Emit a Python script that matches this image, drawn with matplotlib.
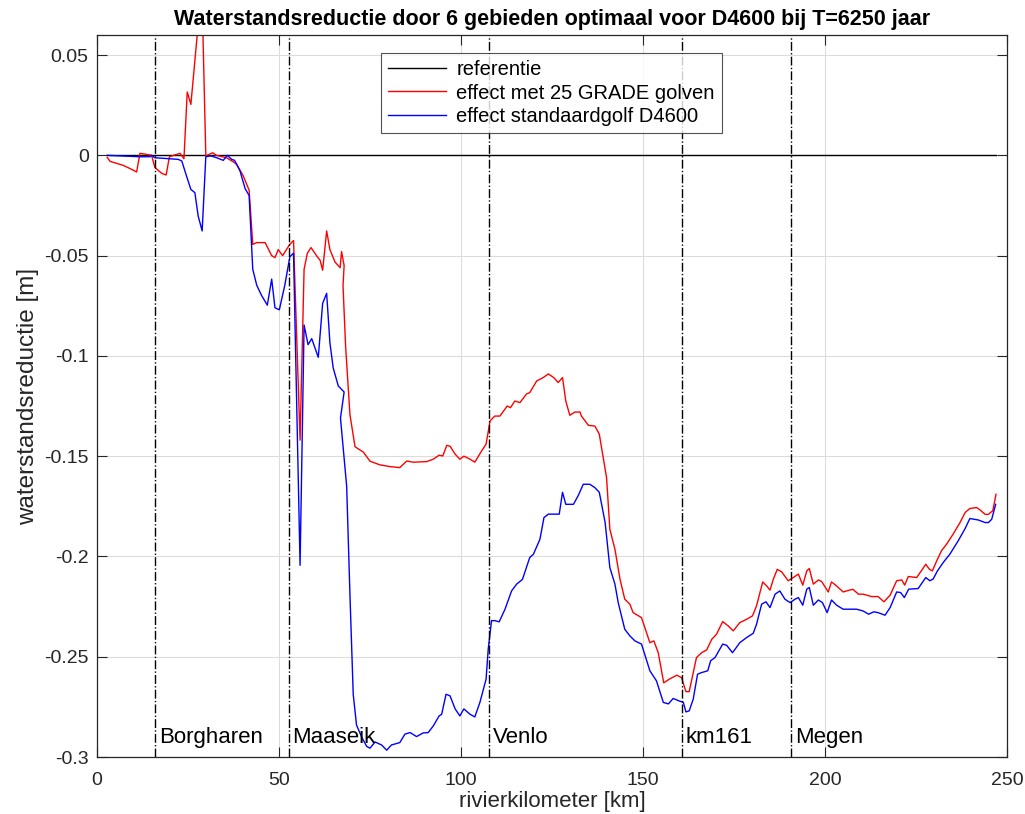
import matplotlib
matplotlib.use('Agg')
import matplotlib.pyplot as plt
import numpy as np

plt.rcParams['font.family'] = ['Liberation Sans', 'DejaVu Sans']

# rivierkilometer en waterstandsreductie [m]
km_grade = [2.8, 3.6, 6.3, 7.2, 9.1, 10.9, 11.8, 13.6, 15.0, 15.9, 17.8, 19.0, 19.9,
            22.8, 23.9, 24.8, 25.8, 28.8, 29.9, 31.8, 32.8, 35.6, 37.5, 38.4, 40.2,
            41.8, 42.8, 43.9, 46.2, 48.0, 48.9, 49.8, 51.0, 53.0, 54.0, 55.8, 56.9,
            57.8, 58.8, 60.5, 61.3, 62.0, 63.1, 64.0, 65.4, 66.8, 67.2, 67.9, 67.6,
            68.3, 69.5, 70.9, 73.2, 75.0, 77.7, 80.5, 83.2, 85.1, 86.9, 90.6, 92.4,
            94.0, 95.0, 96.1, 97.0, 98.4, 99.7, 100.8, 102.5, 103.8, 105.7, 106.9,
            108.0, 109.3, 110.7, 112.7, 113.6, 114.8, 116.2, 118.0, 118.9, 120.8,
            122.6, 124.0, 125.5, 126.7, 127.9, 128.8, 129.9, 131.3, 132.7, 133.1,
            135.0, 136.8, 138.0, 140.0, 140.9, 142.3, 143.7, 145.0, 146.4, 147.3,
            149.6, 151.9, 153.0, 154.2, 155.7, 157.4, 159.3, 160.6, 161.8, 162.7,
            164.7, 166.1, 167.5, 168.9, 170.2, 171.9, 173.4, 174.8, 176.6, 178.5,
            180.1, 181.2, 182.9, 184.0, 184.9, 185.8, 186.9, 188.1, 189.9, 191.3,
            192.7, 193.9, 195.0, 195.7, 196.8, 198.2, 199.1, 200.9, 201.8, 203.2,
            205.0, 206.9, 207.7, 209.2, 210.5, 212.8, 214.6, 216.2, 217.9, 219.7,
            221.1, 221.9, 222.9, 225.2, 227.7, 228.7, 229.5, 230.7, 232.0, 233.4,
            235.2, 237.1, 238.5, 239.8, 241.7, 242.6, 244.0, 244.9, 246.1, 247.0]
dh_grade = [-0.001, -0.003, -0.0045, -0.005, -0.0066, -0.0083, 0.001, 0.0005, 0.0,
            -0.006, -0.009, -0.0098, -0.0007, 0.001, -0.0017, 0.0316, 0.0254, 0.085,
            -0.0003, 0.0013, 0.0, -0.0012, -0.0033, -0.0045, -0.0103, -0.0174,
            -0.0444, -0.0435, -0.0435, -0.050, -0.051, -0.047, -0.050, -0.0443,
            -0.0425, -0.142, -0.0568, -0.0488, -0.046, -0.0505, -0.0523, -0.0573,
            -0.0377, -0.047, -0.0532, -0.056, -0.048, -0.055, -0.065, -0.095,
            -0.1293, -0.1453, -0.148, -0.1525, -0.1543, -0.1552, -0.1557, -0.1524,
            -0.153, -0.1527, -0.1515, -0.1495, -0.1499, -0.1446, -0.145, -0.149,
            -0.1515, -0.150, -0.1515, -0.153, -0.1473, -0.144, -0.1324, -0.130,
            -0.130, -0.125, -0.1258, -0.1225, -0.1233, -0.119, -0.1183, -0.1125,
            -0.1108, -0.109, -0.1108, -0.1133, -0.1108, -0.1225, -0.1296, -0.128,
            -0.128, -0.130, -0.1346, -0.135, -0.139, -0.1607, -0.1864, -0.1964,
            -0.2114, -0.2213, -0.2238, -0.228, -0.2305, -0.243, -0.2421, -0.248,
            -0.263, -0.261, -0.2592, -0.2604, -0.2674, -0.2674, -0.2504, -0.248,
            -0.2466, -0.2413, -0.2388, -0.2325, -0.2346, -0.2371, -0.233, -0.2313,
            -0.2296, -0.2246, -0.2127, -0.2147, -0.2168, -0.2114, -0.2064, -0.2077,
            -0.2121, -0.2105, -0.2088, -0.2143, -0.2072, -0.206, -0.2138, -0.2117,
            -0.2125, -0.2177, -0.2127, -0.2147, -0.2177, -0.2167, -0.2164, -0.2188,
            -0.2188, -0.220, -0.220, -0.2226, -0.2193, -0.2121, -0.2117, -0.2143,
            -0.210, -0.2105, -0.2039, -0.2064, -0.2072, -0.2022, -0.1972, -0.1939,
            -0.1889, -0.1831, -0.1781, -0.1761, -0.1756, -0.1768, -0.179, -0.179,
            -0.1772, -0.169]

km_std = [2.8, 11.8, 14.6, 15.0, 15.9, 22.3, 23.3, 24.6, 25.8, 26.9, 27.8, 28.9,
          29.9, 31.3, 32.9, 34.7, 35.8, 37.0, 37.8, 39.3, 40.7, 41.8, 42.8, 43.9,
          45.2, 46.8, 48.0, 48.9, 50.1, 51.6, 53.0, 54.0, 55.8, 56.9, 58.0, 59.0,
          60.8, 62.0, 63.1, 64.0, 64.9, 66.3, 67.9, 66.9, 68.6, 69.5, 70.4, 71.3,
          72.7, 74.1, 75.0, 76.4, 78.2, 79.6, 80.9, 83.2, 84.6, 86.0, 87.8, 89.6,
          91.0, 92.4, 94.0, 94.7, 95.9, 97.0, 98.4, 99.7, 100.8, 102.5, 103.8,
          105.2, 106.9, 107.5, 108.4, 109.3, 110.5, 112.1, 113.9, 115.3, 116.9,
          118.0, 118.9, 119.9, 121.7, 122.8, 124.0, 125.8, 127.0, 127.9, 128.8,
          130.9, 132.2, 133.6, 135.4, 136.8, 138.0, 139.6, 140.9, 142.3, 143.2,
          145.0, 146.4, 147.8, 149.6, 151.9, 153.7, 155.6, 157.0, 158.3, 159.9,
          161.1, 161.8, 162.7, 163.8, 165.0, 166.1, 167.8, 168.6, 169.8, 171.9,
          173.0, 174.6, 176.6, 178.5, 180.3, 181.2, 182.6, 183.8, 184.9, 186.3,
          187.6, 189.0, 190.4, 191.8, 192.7, 193.9, 195.0, 195.7, 196.8, 198.2,
          199.3, 200.6, 201.8, 203.2, 205.0, 208.7, 210.5, 212.0, 213.4, 214.6,
          216.5, 217.9, 219.7, 220.8, 221.8, 223.0, 225.6, 227.7, 228.8, 229.7,
          230.9, 232.5, 234.3, 236.6, 238.5, 239.8, 242.1, 244.0, 244.9, 245.8,
          246.9]
dh_std = [0.0, -0.0007, -0.0007, 0.0, -0.0012, -0.002, -0.0028, -0.0103, -0.017,
          -0.0186, -0.0302, -0.0377, -0.0007, -0.0003, -0.0012, -0.0025, 0.0,
          -0.002, -0.0025, -0.0078, -0.0166, -0.020, -0.0568, -0.0648, -0.0698,
          -0.0747, -0.0617, -0.076, -0.077, -0.0648, -0.0505, -0.0488, -0.2044,
          -0.0846, -0.0944, -0.0914, -0.1007, -0.0738, -0.0688, -0.0935, -0.106,
          -0.115, -0.118, -0.131, -0.165, -0.219, -0.2687, -0.284, -0.290, -0.2947,
          -0.2956, -0.2925, -0.294, -0.2966, -0.294, -0.2928, -0.2886, -0.2878,
          -0.2898, -0.288, -0.2878, -0.2845, -0.2795, -0.2787, -0.2687, -0.2695,
          -0.276, -0.2795, -0.276, -0.2787, -0.280, -0.2728, -0.2612, -0.246,
          -0.232, -0.232, -0.2326, -0.2263, -0.2172, -0.2138, -0.2114, -0.2055,
          -0.2005, -0.1989, -0.1914, -0.1806, -0.1789, -0.1789, -0.1789, -0.168,
          -0.174, -0.174, -0.1697, -0.164, -0.164, -0.1657, -0.168, -0.183,
          -0.2055, -0.2138, -0.223, -0.2363, -0.2396, -0.2421, -0.2437, -0.257,
          -0.262, -0.2728, -0.2735, -0.2708, -0.272, -0.2728, -0.2775, -0.277,
          -0.2712, -0.2587, -0.2579, -0.257, -0.252, -0.2504, -0.2437, -0.2443,
          -0.248, -0.243, -0.2404, -0.2383, -0.2338, -0.2238, -0.2226, -0.2255,
          -0.2188, -0.2172, -0.2213, -0.223, -0.2213, -0.2205, -0.2243, -0.2163,
          -0.2155, -0.2243, -0.2217, -0.223, -0.228, -0.2217, -0.2243, -0.2263,
          -0.2263, -0.2272, -0.2288, -0.2276, -0.228, -0.2293, -0.2255, -0.2177,
          -0.218, -0.2205, -0.2163, -0.216, -0.2105, -0.2121, -0.2113, -0.2072,
          -0.203, -0.1989, -0.1922, -0.1861, -0.1811, -0.1818, -0.1831, -0.1831,
          -0.1815, -0.174]

km_ref = [2.8, 247.0]
dh_ref = [0.0, 0.0]

# grenzen van de gebieden
locaties = ['Borgharen', 'Maaseik', 'Venlo', 'km161', 'Megen']
km_locaties = [16.0, 52.7, 107.7, 160.8, 190.8]

fig = plt.figure(figsize=(10.25, 8.14), dpi=100)
ax = fig.add_axes([0.0946, 0.070, 0.8878, 0.887])

ax.plot(km_ref, dh_ref, color='k', linewidth=1.0, label='referentie')
ax.plot(km_grade, dh_grade, color='r', linewidth=1.0, label='effect met 25 GRADE golven')
ax.plot(km_std, dh_std, color='b', linewidth=1.0, label='effect standaardgolf D4600')

for naam, km in zip(locaties, km_locaties):
    ax.axvline(km, color='k', linestyle='-.', linewidth=1.0)
    ax.text(km + 1.0, -0.2905, naam, fontsize=16, va='center', ha='left')

ax.set_xlim(0, 250)
ax.set_ylim(-0.3, 0.06)
ax.set_xticks(np.arange(0, 251, 50))
ax.set_yticks(np.arange(-0.3, 0.051, 0.05))
ax.set_yticklabels(['-0.3', '-0.25', '-0.2', '-0.15', '-0.1', '-0.05', '0', '0.05'])
ax.grid(True, color='#dcdcdc', linewidth=0.8)
ax.set_axisbelow(True)
ax.tick_params(direction='in', length=7, width=0.8, labelsize=14,
               top=True, right=True, colors='#262626', labelcolor='#262626')
ax.tick_params(axis='x', pad=11)
ax.tick_params(axis='y', pad=6)
for sp in ax.spines.values():
    sp.set_color('#262626')
    sp.set_linewidth(0.9)

ax.set_xlabel('rivierkilometer [km]', fontsize=16, color='#262626', labelpad=1)
ax.set_ylabel('waterstandsreductie [m]', fontsize=17.5, color='#262626', labelpad=4)
ax.set_title('Waterstandsreductie door 6 gebieden optimaal voor D4600 bij T=6250 jaar',
             fontsize=15.5, fontweight='bold', pad=7)

leg = ax.legend(loc='upper left', bbox_to_anchor=(0.312, 0.975), fontsize=14.5,
                frameon=True, fancybox=False, borderpad=0.35, labelspacing=0.22,
                handlelength=2.9, handletextpad=0.5, borderaxespad=0)
leg.get_frame().set_edgecolor('#262626')
leg.get_frame().set_linewidth(0.8)

fig.savefig('out.png', dpi=100)
